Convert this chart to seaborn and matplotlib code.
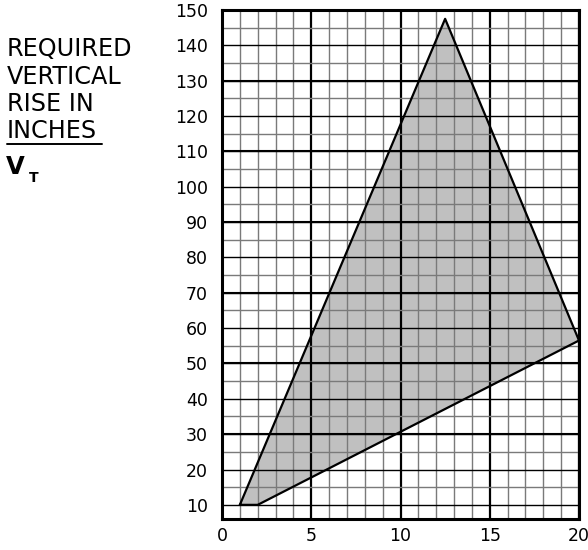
import matplotlib
matplotlib.use("Agg")
import matplotlib.pyplot as plt
import seaborn as sns
from matplotlib.lines import Line2D

# corners of the shaded region (span, rise)
span = [1, 2, 20, 12.5, 1]
rise = [10, 10, 56.5, 147.5, 10]

x_ticks = [0, 5, 10, 15, 20]
y_ticks = list(range(10, 151, 10))
heavy_rows = [30, 50, 70, 90, 110, 130]

sns.set_style("white")
plt.rcParams['font.family'] = ['DejaVu Sans']
plt.rcParams['text.color'] = 'black'
plt.rcParams['xtick.color'] = 'black'
plt.rcParams['ytick.color'] = 'black'

W, H = 588, 550
fig = plt.figure(figsize=(W / 100, H / 100), dpi=100)
ax = fig.add_axes([222 / W, 1 - 519 / H, (579 - 222) / W, (519 - 10) / H])

# shaded area and outline
ax.fill(span, rise, color='#c0c0c0', zorder=1, lw=0)
sns.lineplot(x=span, y=rise, sort=False, estimator=None, color='black',
             lw=1.6, ax=ax, zorder=4)

ax.set_xlim(0, 20)
ax.set_ylim(6, 150)
ax.set_xticks(x_ticks)
ax.set_xticks(range(0, 21), minor=True)
ax.set_yticks(y_ticks)
ax.set_yticks(range(10, 151, 5), minor=True)

ax.grid(which='minor', color='#7a7a7a', lw=1.0, zorder=2)
ax.grid(which='major', axis='x', color='black', lw=1.6, zorder=3)
ax.grid(which='major', axis='y', color='black', lw=1.0, zorder=3)
for r in heavy_rows:
    ax.axhline(r, color='black', lw=1.5, zorder=3)
ax.set_axisbelow(False)

ax.tick_params(which='both', length=0, labelsize=12.5, colors='black')
ax.tick_params(axis='y', pad=10)
ax.tick_params(axis='x', pad=6)
ax.set_xlabel('')
ax.set_ylabel('')
for s in ax.spines.values():
    s.set_visible(True)
    s.set_color('black')
    s.set_linewidth(2.2)
    s.set_zorder(5)

# left-hand caption
lines = ['REQUIRED', 'VERTICAL', 'RISE IN', 'INCHES']
for i, t in enumerate(lines):
    fig.text(7 / W, 1 - (37 + i * 27.5) / H, t, fontsize=17.2, va='top', ha='left')
fig.add_artist(Line2D([7 / W, 102 / W], [1 - 143.5 / H, 1 - 143.5 / H],
                      color='black', lw=1.4, transform=fig.transFigure))
fig.text(6 / W, 1 - 155 / H, 'V', fontsize=17.5, fontweight='bold', va='top', ha='left')
fig.text(29 / W, 1 - 171 / H, 'T', fontsize=10, fontweight='bold', va='top', ha='left')

fig.savefig('out.png', dpi=100)
